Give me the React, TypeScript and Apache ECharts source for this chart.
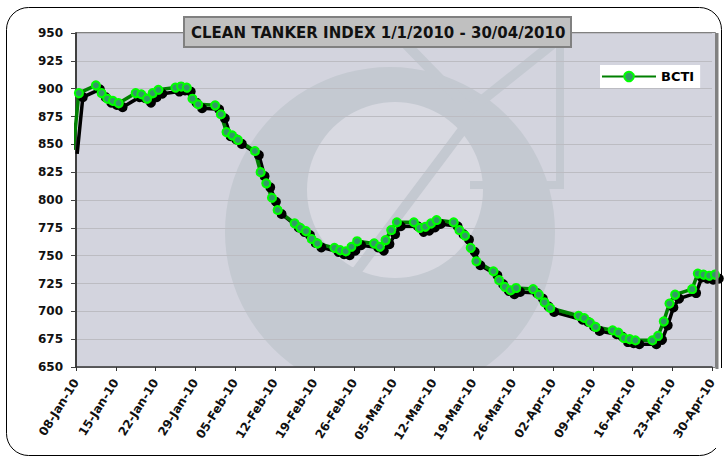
import React, { useEffect, useRef } from "react";
import * as echarts from "echarts";

// BCTI daily values (business days)
const dates: string[] = [
  "2010-01-07",
  "2010-01-08", "2010-01-11", "2010-01-12", "2010-01-13", "2010-01-14", "2010-01-15",
  "2010-01-18", "2010-01-19", "2010-01-20", "2010-01-21", "2010-01-22",
  "2010-01-25", "2010-01-26", "2010-01-27", "2010-01-28", "2010-01-29",
  "2010-02-01", "2010-02-02", "2010-02-03", "2010-02-04", "2010-02-05",
  "2010-02-08", "2010-02-09", "2010-02-10", "2010-02-11", "2010-02-12",
  "2010-02-15", "2010-02-16", "2010-02-17", "2010-02-18", "2010-02-19",
  "2010-02-22", "2010-02-23", "2010-02-24", "2010-02-25", "2010-02-26",
  "2010-03-01", "2010-03-02", "2010-03-03", "2010-03-04", "2010-03-05",
  "2010-03-08", "2010-03-09", "2010-03-10", "2010-03-11", "2010-03-12",
  "2010-03-15", "2010-03-16", "2010-03-17", "2010-03-18", "2010-03-19",
  "2010-03-22", "2010-03-23", "2010-03-24", "2010-03-25", "2010-03-26",
  "2010-03-29", "2010-03-30", "2010-03-31", "2010-04-01",
  "2010-04-06", "2010-04-07", "2010-04-08", "2010-04-09",
  "2010-04-12", "2010-04-13", "2010-04-14", "2010-04-15", "2010-04-16",
  "2010-04-19", "2010-04-20", "2010-04-21", "2010-04-22", "2010-04-23",
  "2010-04-26", "2010-04-27", "2010-04-28", "2010-04-29", "2010-04-30",
];

const bcti: number[] = [
  845,
  896, 903, 896, 891, 889, 887,
  896, 895, 891, 896, 899,
  901, 902, 901, 891, 886,
  885, 877, 861, 858, 854,
  844, 825, 815, 802, 791,
  779, 775, 772, 765, 761,
  757, 755, 754, 758, 763,
  761, 758, 764, 773, 780,
  780, 775, 776, 779, 782,
  780, 773, 768, 757, 745,
  736, 728, 722, 719, 721,
  720, 715, 708, 703,
  696, 694, 690, 686,
  683, 681, 676, 675, 674,
  674, 678, 691, 707, 715,
  720, 734, 733, 732, 733,
];

const tickDates: string[] = [
  "2010-01-08", "2010-01-15", "2010-01-22", "2010-01-29", "2010-02-05",
  "2010-02-12", "2010-02-19", "2010-02-26", "2010-03-05", "2010-03-12",
  "2010-03-19", "2010-03-26", "2010-04-02", "2010-04-09", "2010-04-16",
  "2010-04-23", "2010-04-30",
];
const tickLabels: string[] = [
  "08-Jan-10", "15-Jan-10", "22-Jan-10", "29-Jan-10", "05-Feb-10",
  "12-Feb-10", "19-Feb-10", "26-Feb-10", "05-Mar-10", "12-Mar-10",
  "19-Mar-10", "26-Mar-10", "02-Apr-10", "09-Apr-10", "16-Apr-10",
  "23-Apr-10", "30-Apr-10",
];

const seriesName = "BCTI";
const titleText = "CLEAN TANKER INDEX 1/1/2010 - 30/04/2010";

const DAY = 86400000;
const ORIGIN = Date.UTC(2010, 0, 1);
const dayIndex = (iso: string) => {
  const [y, m, d] = iso.split("-").map(Number);
  return Math.round((Date.UTC(y, m - 1, d) - ORIGIN) / DAY);
};

const FONT = "'DejaVu Sans', Verdana, sans-serif";
const GRID = { left: 76, right: 16, top: 33, bottom: 90 };
const X_MIN = dayIndex(tickDates[0]);
const X_MAX = dayIndex(tickDates[tickDates.length - 1]);

export default function App() {
  const ref = useRef<HTMLDivElement>(null);
  const axisRef = useRef<HTMLDivElement>(null);

  useEffect(() => {
    if (!ref.current || !axisRef.current) return;
    const chart = echarts.init(ref.current, null, { renderer: "svg" });
    const axisChart = echarts.init(axisRef.current, null, { renderer: "svg" });

    const tickVals = tickDates.map(dayIndex);
    const labelMap: Record<number, string> = {};
    tickVals.forEach((v, i) => (labelMap[v] = tickLabels[i]));

    // each date is plotted at the centre of its day on the date axis
    const data = dates.map((d, i) => {
      const item: any = { value: [dayIndex(d) + 0.5, bcti[i]] };
      if (i === 0) {
        item.symbol = "none";
      }
      return item;
    });

    const wm = "#c4c9d1";

    const xAxisBase = {
      type: "value",
      min: X_MIN,
      max: X_MAX,
      interval: 7,
      splitLine: { show: false },
    };

    chart.setOption({
      animation: false,
      backgroundColor: "transparent",
      title: {
        text: titleText,
        left: 184,
        top: 17,
        padding: [8, 6, 7, 7],
        backgroundColor: "#c0c0c0",
        borderColor: "#808080",
        borderWidth: 2,
        textStyle: {
          fontFamily: FONT,
          fontSize: 15,
          fontWeight: "bold",
          color: "#111",
        },
      },
      legend: {
        left: 600,
        top: 65,
        padding: [5, 6, 5, 1],
        backgroundColor: "#ffffff",
        itemWidth: 54,
        itemHeight: 12,
        textStyle: {
          fontFamily: FONT,
          fontSize: 13,
          fontWeight: "bold",
          color: "#000",
        },
        itemStyle: {
          shadowColor: "transparent",
          shadowBlur: 0,
          shadowOffsetX: 0,
          shadowOffsetY: 0,
        },
        lineStyle: {
          shadowColor: "transparent",
          shadowBlur: 0,
          shadowOffsetX: 0,
          shadowOffsetY: 0,
        },
        data: [seriesName],
      },
      grid: { ...GRID, show: false },
      graphic: [
        {
          type: "rect",
          z: -30,
          shape: { x: 6.5, y: 7.5, width: 715, height: 448, r: 22 },
          style: { fill: "#ffffff", stroke: "#000000", lineWidth: 1 },
        },
        {
          type: "rect",
          z: -25,
          shape: { x: 76, y: 33, width: 639, height: 334 },
          style: { fill: "#d3d4de" },
        },
        {
          type: "circle",
          z: -24,
          shape: { cx: 390, cy: 232, r: 165 },
          style: { fill: wm },
        },
        {
          type: "circle",
          z: -23,
          shape: { cx: 395, cy: 190, r: 88 },
          style: { fill: "#d8d9e1" },
        },
        {
          type: "line",
          z: -22,
          shape: { x1: 335, y1: 300, x2: 470, y2: 120 },
          style: { stroke: wm, lineWidth: 10 },
        },
        {
          type: "polyline",
          z: -22,
          shape: {
            points: [
              [400, 38],
              [470, 110],
              [560, 38],
            ],
          },
          style: { stroke: wm, lineWidth: 10, fill: "none" },
        },
        {
          type: "polyline",
          z: -22,
          shape: {
            points: [
              [560, 36],
              [560, 185],
              [470, 185],
            ],
          },
          style: { stroke: wm, lineWidth: 8, fill: "none" },
        },
        {
          type: "rect",
          z: -21,
          shape: { x: 60, y: 368, width: 662, height: 80 },
          style: { fill: "#ffffff" },
        },
        {
          type: "rect",
          z: -20,
          shape: { x: 76.5, y: 32.5, width: 639, height: 335 },
          style: { fill: "none", stroke: "#808080", lineWidth: 1 },
        },
        {
          type: "line",
          z: 5,
          shape: { x1: 717, y1: 33, x2: 717, y2: 369 },
          style: { stroke: "#808080", lineWidth: 3 },
        },
      ],
      xAxis: {
        ...xAxisBase,
        axisLine: { show: false },
        axisTick: { show: false },
        axisLabel: { show: false },
      },
      yAxis: {
        type: "value",
        min: 650,
        max: 950,
        interval: 25,
        axisLine: { show: true, lineStyle: { color: "#404040", width: 2 } },
        axisTick: { show: true, length: 5, lineStyle: { color: "#404040" } },
        axisLabel: {
          margin: 13,
          fontFamily: FONT,
          fontSize: 12,
          fontWeight: "bold",
          color: "#111",
        },
        splitLine: { show: true, lineStyle: { color: "#bcbcc2", width: 1 } },
      },
      series: [
        {
          name: seriesName,
          type: "line",
          data,
          clip: false,
          symbol: "circle",
          symbolSize: 8,
          lineStyle: {
            color: "#008000",
            width: 3.5,
            shadowColor: "#000",
            shadowOffsetX: 4,
            shadowOffsetY: 4,
            shadowBlur: 1,
          },
          itemStyle: {
            color: "#339966",
            borderColor: "#00ff00",
            borderWidth: 2,
            shadowColor: "#000",
            shadowOffsetX: 4,
            shadowOffsetY: 4,
            shadowBlur: 1,
          },
          z: 3,
        },
      ],
    });

    // date axis (line, ticks, rotated labels) drawn on the same grid
    axisChart.setOption({
      animation: false,
      backgroundColor: "transparent",
      grid: { ...GRID, show: false },
      xAxis: {
        ...xAxisBase,
        axisLine: { show: true, lineStyle: { color: "#333", width: 1.5 } },
        axisTick: { show: true, length: 4, lineStyle: { color: "#333" } },
        axisLabel: {
          rotate: 58,
          margin: 13,
          fontFamily: FONT,
          fontSize: 12,
          fontWeight: "bold",
          color: "#111",
          formatter: (v: number) => labelMap[Math.round(v)] ?? "",
        },
      },
      yAxis: {
        type: "value",
        min: 650,
        max: 950,
        show: false,
        splitLine: { show: false },
      },
      series: [
        {
          type: "line",
          data: [[X_MIN, 650]],
          symbol: "none",
          silent: true,
          lineStyle: { opacity: 0 },
        },
      ],
    });

    return () => {
      chart.dispose();
      axisChart.dispose();
    };
  }, []);

  return (
    <div>
      <div
        ref={ref}
        style={{ position: "absolute", left: 0, top: 0, width: 728, height: 457 }}
      />
      <div
        ref={axisRef}
        style={{
          position: "absolute",
          left: 0,
          top: 0,
          width: 728,
          height: 457,
          pointerEvents: "none",
        }}
      />
    </div>
  );
}
